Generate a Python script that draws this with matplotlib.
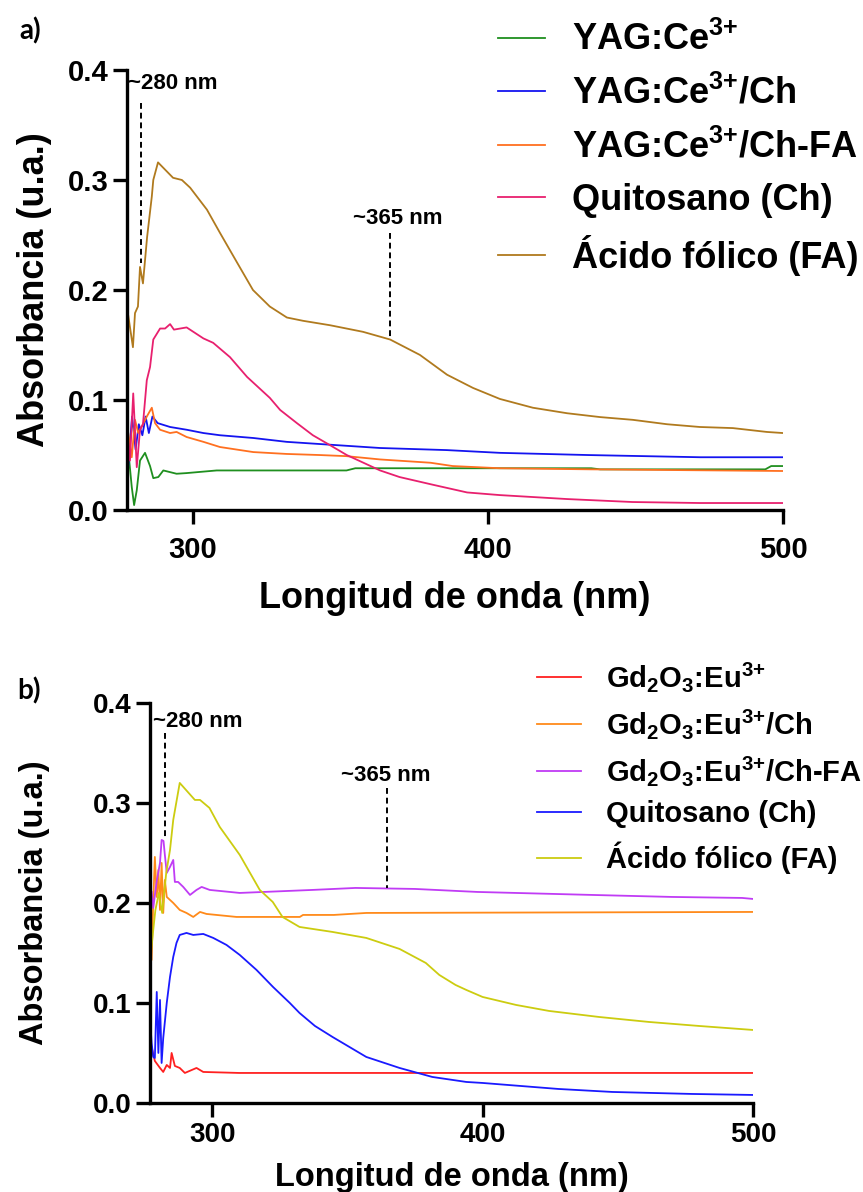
import matplotlib.pyplot as plt

# ---- panel a) data: wavelength (nm) and absorbance ----
yag_nm = [277.0, 278.0, 279.2, 280.0, 280.9, 282.0, 283.7, 285.4, 286.5, 288.2, 289.9, 294.4,
          297.8, 308.0, 352.0, 355.0, 435.0, 438.0, 494.0, 496.0, 500.0]
yag_abs = [0.030, 0.0545, 0.021, 0.0045, 0.018, 0.045, 0.052, 0.040, 0.029, 0.030, 0.036, 0.033,
           0.0336, 0.036, 0.036, 0.038, 0.038, 0.037, 0.037, 0.040, 0.040]

yag_ch_nm = [277.3, 277.9, 279.3, 280.5, 281.6, 282.8, 283.9, 285.0, 286.2, 288.0, 292.2, 297.8,
             303.5, 309.1, 320.4, 331.7, 343.0, 363.4, 386.0, 404.0, 434.0, 472.0, 500.0]
yag_ch_abs = [0.088, 0.036, 0.085, 0.055, 0.078, 0.068, 0.085, 0.070, 0.085, 0.079, 0.0755, 0.073,
              0.070, 0.068, 0.0655, 0.062, 0.060, 0.0564, 0.0545, 0.052, 0.050, 0.048, 0.048]

yag_chfa_nm = [277.0, 278.0, 279.2, 280.3, 281.4, 282.6, 284.3, 286.0, 287.1, 288.8, 292.2, 294.4,
               297.8, 303.5, 309.1, 320.4, 331.7, 343.0, 352.0, 363.4, 380.5, 388.0, 404.0, 435.0, 500.0]
yag_chfa_abs = [0.082, 0.070, 0.048, 0.082, 0.070, 0.076, 0.085, 0.093, 0.079, 0.073, 0.070, 0.071,
                0.0664, 0.062, 0.0573, 0.0527, 0.051, 0.050, 0.049, 0.046, 0.043, 0.040, 0.038, 0.037, 0.0355]

ch_a_nm = [277.5, 278.6, 279.7, 280.9, 282.0, 283.0, 284.3, 285.4, 286.5, 288.8, 290.5, 292.2, 293.5,
           297.8, 303.5, 306.8, 312.5, 318.3, 326.0, 329.5, 335.2, 340.6, 346.4, 352.1, 363.4, 370.0,
           381.3, 392.9, 404.0, 426.8, 449.0, 471.8, 500.0]
ch_a_abs = [0.082, 0.045, 0.106, 0.039, 0.073, 0.078, 0.118, 0.130, 0.155, 0.165, 0.165, 0.169, 0.164,
            0.166, 0.156, 0.152, 0.139, 0.121, 0.102, 0.091, 0.079, 0.068, 0.059, 0.050, 0.036, 0.030,
            0.023, 0.016, 0.0136, 0.010, 0.0073, 0.0064, 0.0064]

fa_a_nm = [277.0, 278.0, 279.6, 280.3, 281.3, 282.0, 283.0, 284.4, 286.0, 286.5, 288.1, 293.2, 296.2,
           299.0, 304.7, 309.1, 314.9, 320.3, 326.0, 331.8, 337.3, 346.4, 357.6, 366.8, 376.9, 386.1,
           394.9, 404.0, 415.2, 426.8, 438.0, 449.1, 460.7, 471.8, 483.0, 494.5, 500.0]
fa_a_abs = [0.136, 0.177, 0.148, 0.179, 0.185, 0.221, 0.206, 0.248, 0.285, 0.300, 0.316, 0.302, 0.300,
            0.293, 0.273, 0.252, 0.225, 0.200, 0.185, 0.175, 0.172, 0.168, 0.162, 0.155, 0.141, 0.123,
            0.111, 0.101, 0.093, 0.088, 0.0845, 0.082, 0.078, 0.0755, 0.0745, 0.071, 0.070]

# ---- panel b) data ----
gd_nm = [277.0, 277.6, 278.8, 280.7, 281.9, 283.2, 284.4, 285.0, 286.2, 288.0, 289.9, 294.2,
         296.7, 310.0, 500.0]
gd_abs = [0.046, 0.056, 0.042, 0.035, 0.031, 0.038, 0.035, 0.050, 0.037, 0.035, 0.030, 0.035,
          0.031, 0.030, 0.030]

gd_ch_nm = [277.0, 277.6, 278.2, 278.8, 279.5, 280.1, 280.7, 281.3, 281.9, 282.5, 283.2, 285.6,
            288.0, 290.5, 293.0, 295.5, 297.9, 309.0, 332.4, 333.6, 345.0, 357.0, 500.0]
gd_ch_abs = [0.160, 0.143, 0.200, 0.246, 0.206, 0.233, 0.193, 0.240, 0.190, 0.223, 0.206, 0.200,
             0.193, 0.190, 0.186, 0.191, 0.189, 0.186, 0.186, 0.188, 0.188, 0.190, 0.191]

gd_chfa_nm = [277.6, 278.2, 279.5, 280.7, 281.3, 282.0, 282.5, 283.2, 284.4, 285.6, 286.2, 287.4,
              289.3, 291.8, 294.2, 296.1, 299.1, 310.2, 337.0, 353.0, 375.0, 398.0, 440.5, 470.0,
              496.0, 500.0]
gd_chfa_abs = [0.211, 0.195, 0.222, 0.240, 0.263, 0.262, 0.248, 0.230, 0.236, 0.243, 0.221, 0.221,
               0.216, 0.208, 0.213, 0.216, 0.213, 0.210, 0.213, 0.215, 0.214, 0.211, 0.208, 0.206,
               0.205, 0.204]

ch_b_nm = [277.0, 277.6, 278.2, 278.8, 279.5, 280.1, 280.7, 281.3, 281.9, 283.2, 284.4, 285.6, 286.8,
           288.0, 290.5, 293.0, 296.7, 300.4, 305.3, 310.2, 316.4, 322.5, 328.7, 332.3, 338.0, 344.5,
           357.0, 369.3, 381.4, 394.0, 400.0, 428.0, 448.0, 477.5, 500.0]
ch_b_abs = [0.086, 0.060, 0.046, 0.045, 0.111, 0.050, 0.103, 0.040, 0.065, 0.100, 0.126, 0.146, 0.160,
            0.168, 0.170, 0.168, 0.169, 0.165, 0.158, 0.148, 0.133, 0.116, 0.100, 0.090, 0.077, 0.066,
            0.046, 0.035, 0.026, 0.021, 0.020, 0.014, 0.011, 0.009, 0.008]

fa_b_nm = [277.0, 278.2, 279.0, 280.3, 281.5, 283.0, 284.4, 285.6, 288.0, 293.6, 295.5, 299.0, 302.8,
           310.2, 317.6, 322.4, 326.0, 332.3, 344.5, 357.0, 369.3, 379.0, 384.0, 390.0, 394.0, 400.0,
           412.4, 424.6, 443.0, 461.5, 480.0, 500.0]
fa_b_abs = [0.141, 0.173, 0.193, 0.210, 0.190, 0.230, 0.253, 0.283, 0.320, 0.303, 0.303, 0.295, 0.276,
            0.248, 0.213, 0.201, 0.186, 0.176, 0.171, 0.165, 0.154, 0.140, 0.128, 0.118, 0.113, 0.106,
            0.098, 0.092, 0.086, 0.081, 0.077, 0.073]

y_ticks = [0.0, 0.1, 0.2, 0.3, 0.4]
x_ticks = [300, 400, 500]

# fonts: Arial-like bold everywhere, mathtext for super/subscripts
plt.rcParams['font.family'] = ['Liberation Sans', 'DejaVu Sans']
plt.rcParams['font.weight'] = 'bold'
plt.rcParams['mathtext.fontset'] = 'custom'
plt.rcParams['mathtext.rm'] = 'Liberation Sans:bold'
plt.rcParams['mathtext.bf'] = 'Liberation Sans:bold'
plt.rcParams['mathtext.it'] = 'Liberation Sans:bold'

fig = plt.figure(figsize=(8.63, 11.92), dpi=100)
ax_a = fig.add_axes([0.1472, 0.5721, 0.7601, 0.3692])
ax_b = fig.add_axes([0.1738, 0.0747, 0.6987, 0.3356])


def style_axis(ax, xmin, tick_size, label_size, xpad, xlabelpad, ylabelpad):
    ax.set_xlim(xmin, 500)
    ax.set_ylim(0, 0.4)
    ax.set_xticks(x_ticks)
    ax.set_yticks(y_ticks)
    ax.set_yticklabels([f'{v:.1f}' for v in y_ticks])
    for side in ['top', 'right']:
        ax.spines[side].set_visible(False)
    for side in ['left', 'bottom']:
        ax.spines[side].set_linewidth(2.4)
    ax.tick_params(direction='out', length=10, width=2.4, labelsize=tick_size, pad=3)
    ax.tick_params(axis='x', pad=xpad)
    ax.set_xlabel('Longitud de onda (nm)', fontsize=label_size, fontweight='bold', labelpad=xlabelpad)
    ax.set_ylabel('Absorbancia (u.a.)', fontsize=label_size, fontweight='bold', labelpad=ylabelpad)


def mark_peak(ax, text, tx, ty, lx, y0, y1, ha):
    ax.text(tx, ty, text, fontsize=16, fontweight='bold', ha=ha, va='center', clip_on=False)
    ax.plot([lx, lx], [y0, y1], color='black', lw=1.4, ls=(0, (3, 2)))


# ---- panel a) ----
ax_a.plot(yag_nm, yag_abs, color='#1f8f1f', lw=1.3, label=r'YAG:Ce$^{3{+}}$')
ax_a.plot(yag_ch_nm, yag_ch_abs, color='#1414f0', lw=1.3, label=r'YAG:Ce$^{3{+}}$/Ch')
ax_a.plot(yag_chfa_nm, yag_chfa_abs, color='#ff7020', lw=1.3, label=r'YAG:Ce$^{3{+}}$/Ch-FA')
ax_a.plot(ch_a_nm, ch_a_abs, color='#e8206e', lw=1.3, label='Quitosano (Ch)')
ax_a.plot(fa_a_nm, fa_a_abs, color='#b07a1e', lw=1.3, label='Ácido fólico (FA)')
style_axis(ax_a, 277.6, 21, 26, 9, 12, 12)
mark_peak(ax_a, '~280 nm', 277.9, 0.388, 282.3, 0.370, 0.225, 'left')
mark_peak(ax_a, '~365 nm', 369.5, 0.265, 366.8, 0.252, 0.156, 'center')
ax_a.legend(loc='upper left', bbox_to_anchor=(498 / 863, 1 - 22 / 1192),
            bbox_transform=fig.transFigure, frameon=False, fontsize=26,
            handlelength=1.3, handletextpad=0.75, labelspacing=0.48,
            borderpad=0, borderaxespad=0)
fig.text(19 / 863, 1 - 31 / 1192, 'a)', fontsize=20, fontweight='bold',
         family='Lato', ha='left', va='center')

# ---- panel b) ----
ax_b.plot(gd_nm, gd_abs, color='#ff2020', lw=1.3, label=r'Gd$_{2}$O$_{3}$:Eu$^{3{+}}$')
ax_b.plot(gd_ch_nm, gd_ch_abs, color='#ff8a1a', lw=1.3, label=r'Gd$_{2}$O$_{3}$:Eu$^{3{+}}$/Ch')
ax_b.plot(gd_chfa_nm, gd_chfa_abs, color='#c03cf5', lw=1.3, label=r'Gd$_{2}$O$_{3}$:Eu$^{3{+}}$/Ch-FA')
ax_b.plot(ch_b_nm, ch_b_abs, color='#1a1aff', lw=1.3, label='Quitosano (Ch)')
ax_b.plot(fa_b_nm, fa_b_abs, color='#cccc10', lw=1.3, label='Ácido fólico (FA)')
style_axis(ax_b, 277.0, 20, 23.5, 4, 10, 31)
mark_peak(ax_b, '~280 nm', 278.1, 0.381, 282.5, 0.370, 0.266, 'left')
mark_peak(ax_b, '~365 nm', 364.1, 0.327, 364.8, 0.315, 0.215, 'center')
ax_b.legend(loc='upper left', bbox_to_anchor=(537 / 863, 1 - 660 / 1192),
            bbox_transform=fig.transFigure, frameon=False, fontsize=21,
            handlelength=1.5, handletextpad=0.85, labelspacing=0.44,
            borderpad=0, borderaxespad=0)
fig.text(17 / 863, 1 - 691 / 1192, 'b)', fontsize=20, fontweight='bold',
         family='Lato', ha='left', va='center')

fig.savefig('out.png', dpi=100)
